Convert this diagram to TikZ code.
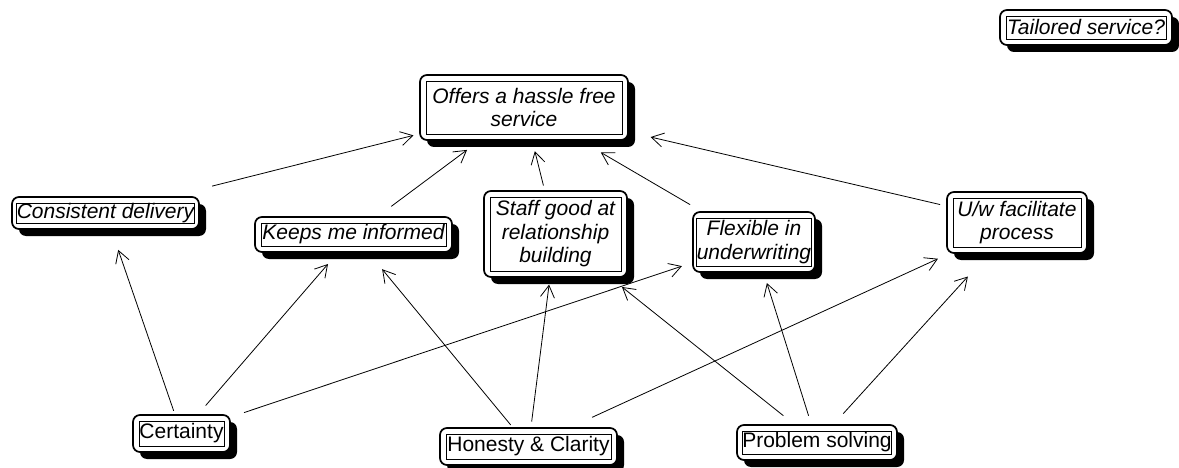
\documentclass[tikz,border=0pt]{standalone}
\usepackage{fontspec}
\setmainfont{Liberation Sans}
\usetikzlibrary{arrows.meta,shadows}
% concept box: rounded outer frame with a solid shadow, thin inner frame holding the text
\newcommand\mapnode[7]{%
  \node[outerbox, minimum width=#4pt, minimum height=#5pt] (#1) at (#2,#3) {};
  \node[#6, minimum width={#4pt-12pt}, minimum height={#5pt-12pt}] (#1-t) at (#1.center) {#7};
}
% link between two concepts, trimmed at both ends
\newcommand\maplink[4]{%
  \draw[link, shorten <=#3pt, shorten >=#4pt] (#1.center) -- (#2.center);
}
\begin{document}
\begin{tikzpicture}[x=1pt,y=-1pt,
  outerbox/.style={draw, line width=1.7pt, rounded corners=7pt, fill=white, inner sep=0pt,
    drop shadow={shadow xshift=7pt, shadow yshift=-7pt, opacity=1, fill=black}},
  plainbox/.style={draw, line width=0.7pt, inner sep=0pt, align=center,
    font=\fontsize{21}{23.5}\selectfont},
  italbox/.style={plainbox, font=\fontsize{21}{23.5}\selectfont\itshape},
  link/.style={line width=0.8pt, -{Straight Barb[length=12pt,width=14pt]}}
]
\useasboundingbox (0,0) rectangle (1179,468);

% concepts
\mapnode{tail}{1086}{27.5}{172}{35}{italbox}{Tailored service?}
\mapnode{off}{524}{107.5}{208}{65}{italbox}{Offers a hassle free\\service}
\mapnode{cons}{105.5}{213}{187}{32}{italbox}{Consistent delivery}
\mapnode{keeps}{353.5}{234.5}{197}{35}{italbox}{Keeps me informed}
\mapnode{staff}{555.5}{234}{143}{86}{italbox}{Staff good at\\relationship\\building}
\mapnode{flex}{754}{242}{122}{60}{italbox}{Flexible in\\underwriting}
\mapnode{uw}{1017}{222.5}{140}{61}{italbox}{U/w facilitate\\process}
\mapnode{cert}{181.5}{433.5}{97}{37}{plainbox}{Certainty}
\mapnode{hon}{528.5}{446.5}{177}{37}{plainbox}{Honesty \& Clarity}
\mapnode{prob}{817}{442.5}{160}{35}{plainbox}{Problem solving}

% links into the top concept
\maplink{cons}{off}{110}{114}
\maplink{keeps}{off}{47}{71}
\maplink{staff}{off}{50}{45}
\maplink{flex}{off}{74}{89}
\maplink{uw}{off}{79}{130}

% links from the bottom row
\maplink{cert}{cons}{24}{39}
\maplink{cert}{keeps}{37}{39}
\maplink{cert}{flex}{66}{76}
\maplink{hon}{keeps}{28}{45}
\maplink{hon}{staff}{25}{51}
\maplink{hon}{uw}{70}{87}
\maplink{prob}{staff}{43}{85}
\maplink{prob}{flex}{28}{43}
\maplink{prob}{uw}{39}{73}
\end{tikzpicture}
\end{document}
